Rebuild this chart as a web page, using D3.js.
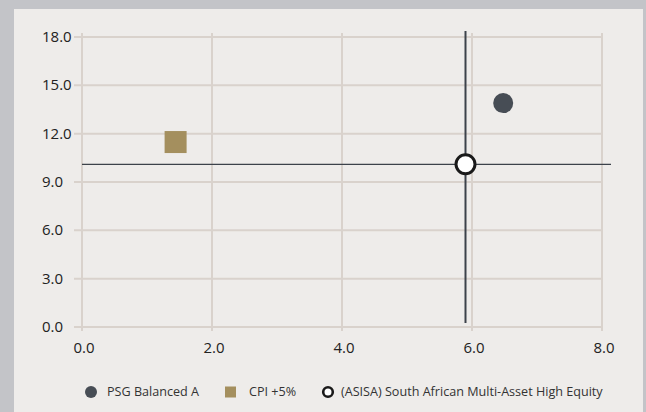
<!DOCTYPE html>
<html><head><meta charset="utf-8">
<script src="https://cdn.jsdelivr.net/npm/d3@7/dist/d3.min.js"></script>
<style>
html,body{margin:0;padding:0;background:#c3c4c8;}
svg{display:block;}
</style></head><body>
<script>
const xTicks = [0, 2, 4, 6, 8];
const yTicks = [0, 3, 6, 9, 12, 15, 18];
const seriesNames = ["PSG Balanced A", "CPI +5%", "(ASISA) South African Multi-Asset High Equity"];
const seriesX = [6.48, 1.44, 5.90];
const seriesY = [13.9, 11.48, 10.1];
const seriesColors = ["#474d55", "#a48f5e", "#ffffff"];

const W = 646, H = 412;
const svg = d3.select("body").append("svg").attr("width", W).attr("height", H);
svg.append("rect").attr("x", 0).attr("y", 0).attr("width", W).attr("height", H).attr("fill", "#c3c4c8");
svg.append("rect").attr("x", 14).attr("y", 9).attr("width", 629).attr("height", 403).attr("fill", "#eeecea");

const x = d3.scaleLinear().domain([0, 8]).range([82, 602]);
const y = d3.scaleLinear().domain([0, 18]).range([327, 37]);
const font = "'Open Sans', sans-serif";
const grid = "#d9d2cc";

svg.append("g").selectAll("line").data(yTicks).join("line")
  .attr("x1", 74).attr("x2", x.range()[1])
  .attr("y1", d => y(d)).attr("y2", d => y(d))
  .attr("stroke", grid).attr("stroke-width", 2);
svg.append("g").selectAll("line").data(xTicks).join("line")
  .attr("x1", d => x(d)).attr("x2", d => x(d))
  .attr("y1", y.range()[1] - 4).attr("y2", y.range()[0] + 4)
  .attr("stroke", grid).attr("stroke-width", 2);

svg.append("g").selectAll("text").data(yTicks).join("text")
  .attr("x", 42).attr("y", d => y(d)).attr("dy", "0.33em")
  .attr("font-family", font).attr("font-size", 15).attr("fill", "#222")
  .text(d => d.toFixed(1));
svg.append("g").selectAll("text").data(xTicks).join("text")
  .attr("x", d => x(d) + 2).attr("y", 353)
  .attr("text-anchor", "middle")
  .attr("font-family", font).attr("font-size", 15).attr("fill", "#222")
  .text(d => d.toFixed(1));

const sx = x(seriesX[2]), sy = y(seriesY[2]);
svg.append("line").attr("x1", sx).attr("x2", sx)
  .attr("y1", y.range()[1] - 6).attr("y2", y.range()[0] - 4)
  .attr("stroke", "#3c424a").attr("stroke-width", 2);
svg.append("line").attr("x1", x.range()[0]).attr("x2", x.range()[1] + 9)
  .attr("y1", sy).attr("y2", sy)
  .attr("stroke", "#3c424a").attr("stroke-width", 1.2);

svg.append("circle").attr("cx", x(seriesX[0])).attr("cy", y(seriesY[0])).attr("r", 10)
  .attr("fill", seriesColors[0]);
svg.append("rect").attr("x", x(seriesX[1]) - 11).attr("y", y(seriesY[1]) - 11)
  .attr("width", 22).attr("height", 22).attr("fill", seriesColors[1]);
svg.append("circle").attr("cx", sx).attr("cy", sy).attr("r", 9.5)
  .attr("fill", seriesColors[2]).attr("stroke", "#1a1a1a").attr("stroke-width", 3);

const ly = 392;
const lg = svg.append("g").attr("font-family", font).attr("font-size", 12.6).attr("fill", "#333");
lg.append("circle").attr("cx", 91).attr("cy", ly).attr("r", 6).attr("fill", seriesColors[0]);
lg.append("text").attr("x", 107).attr("y", ly).attr("dy", "0.35em").text(seriesNames[0]);
lg.append("rect").attr("x", 225).attr("y", ly - 5.5).attr("width", 11).attr("height", 11).attr("fill", seriesColors[1]);
lg.append("text").attr("x", 249).attr("y", ly).attr("dy", "0.35em").text(seriesNames[1]);
lg.append("circle").attr("cx", 328).attr("cy", ly).attr("r", 4.8).attr("fill", "#fff")
  .attr("stroke", "#1a1a1a").attr("stroke-width", 2.6);
lg.append("text").attr("x", 341).attr("y", ly).attr("dy", "0.35em").text(seriesNames[2]);
</script>
</body></html>
